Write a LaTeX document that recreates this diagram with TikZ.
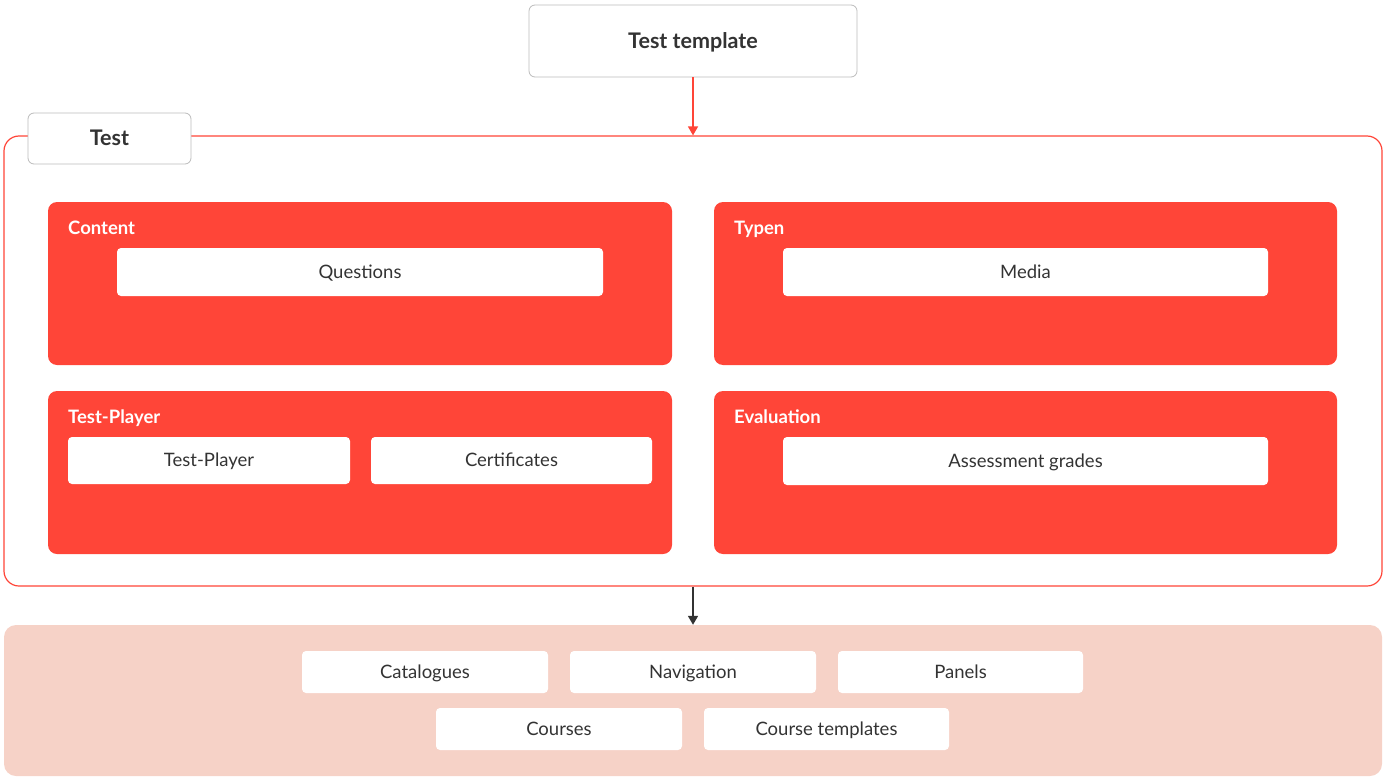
\documentclass[tikz,border=0pt]{standalone}
\usepackage{fontspec}
\setmainfont{Lato}
\usetikzlibrary{arrows.meta}
\definecolor{redc}{HTML}{FF4538}
\definecolor{peach}{HTML}{F6D2C7}
\definecolor{txt}{HTML}{333333}
\definecolor{grayb}{HTML}{BBBBBB}
\begin{document}
\begin{tikzpicture}[x=1pt,y=-1pt,
  graybox/.style={draw=grayb, line width=0.8pt, fill=white, rounded corners=6pt, font=\bfseries\fontsize{21.5}{26}\selectfont, text=txt, text height=19pt, text depth=4pt},
  group/.style={fill=redc, rounded corners=9pt},
  grouplabel/.style={anchor=base west, text=white, font=\bfseries\fontsize{18.5}{22}\selectfont, inner sep=0pt},
  item/.style={fill=white, rounded corners=4pt, font=\fontsize{18.5}{22}\selectfont, text=txt, text height=16pt, text depth=4pt},
  bitem/.style={item}
]
\useasboundingbox (0,0) rectangle (1386,781);
% top
\node[graybox, minimum width=328pt, minimum height=72pt] (tt) at (693,41) {Test template};
% outer test container
\node[draw=redc, line width=1.2pt, rounded corners=15pt, minimum width=1378pt, minimum height=450pt, inner sep=0pt] (test) at (693,361) {};
\node[graybox, minimum width=163pt, minimum height=51pt] (tab) at (109.5,138.5) {Test};
\draw[redc, line width=1.5pt, -{Triangle[length=9pt,width=10pt]}] (tt.south) -- (test.north);
% groups
\node[group, minimum width=624pt, minimum height=163pt] (content) at (360,283.5) {};
\node[grouplabel] at (68,234) {Content};
\node[item, minimum width=486pt, minimum height=48pt] (questions) at (360,272) {Questions};

\node[group, minimum width=623pt, minimum height=163pt] (typen) at (1025.5,283.5) {};
\node[grouplabel] at (734,234) {Typen};
\node[item, minimum width=485pt, minimum height=48pt] (media) at (1025.5,272) {Media};

\node[group, minimum width=624pt, minimum height=163pt] (tpg) at (360,472.5) {};
\node[grouplabel] at (68,423) {Test-Player};
\node[item, minimum width=282pt, minimum height=47pt] (tp) at (209,460.5) {Test-Player};
\node[item, minimum width=281pt, minimum height=47pt] (cert) at (511.5,460.5) {Certificates};

\node[group, minimum width=623pt, minimum height=163pt] (eval) at (1025.5,472.5) {};
\node[grouplabel] at (734,423) {Evaluation};
\node[item, minimum width=485pt, minimum height=48pt] (grades) at (1025.5,461) {Assessment grades};
% bottom
\node[fill=peach, rounded corners=12pt, minimum width=1378pt, minimum height=151pt, inner sep=0pt] (bottom) at (693,700.5) {};
\draw[txt, line width=1.5pt, -{Triangle[length=9pt,width=10pt]}] (test.south) -- (bottom.north);
\node[bitem, minimum width=246pt, minimum height=42pt] (cat) at (425,672) {Catalogues};
\node[bitem, minimum width=246pt, minimum height=42pt] (nav) at (693,672) {Navigation};
\node[bitem, minimum width=245pt, minimum height=42pt] (pan) at (960.5,672) {Panels};
\node[bitem, minimum width=246pt, minimum height=42pt] (crs) at (559,729) {Courses};
\node[bitem, minimum width=245pt, minimum height=42pt] (ctp) at (826.5,729) {Course templates};
\end{tikzpicture}
\end{document}
